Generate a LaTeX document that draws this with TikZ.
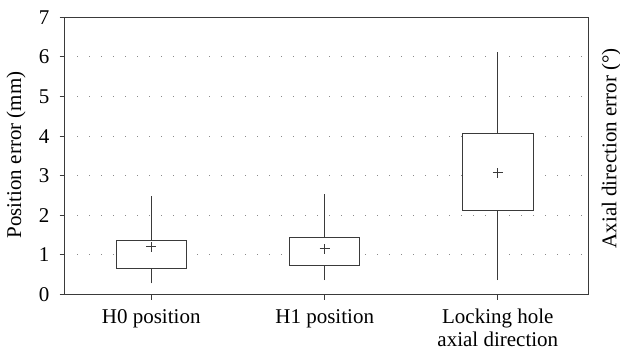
\documentclass[tikz,border=0pt]{standalone}
\usepackage{fontspec}
\setmainfont{Liberation Serif}
\definecolor{axisgray}{HTML}{3A3A3A}
\definecolor{dotgray}{HTML}{8A8A8A}

\begin{document}
\begin{tikzpicture}[x=1pt,y=39.6pt,font=\fontsize{21}{22.5}\selectfont,
    gridline/.style={dotgray,line width=1pt,dash pattern=on 1pt off 11pt},
    boxline/.style={axisgray,line width=1pt},
    ticklabel/.style={anchor=east,inner sep=0pt},
    catlabel/.style={anchor=base,align=center,inner sep=0pt}]
      \useasboundingbox (-64.5,-1.553) rectangle (555.5,7.437);

      \draw[gridline] (12.5,1) -- (520,1); % dotted grid
      \draw[gridline] (12.5,2) -- (520,2);
      \draw[gridline] (12.5,3) -- (520,3);
      \draw[gridline] (12.5,4) -- (520,4);
      \draw[gridline] (12.5,5) -- (520,5);
      \draw[gridline] (12.5,6) -- (520,6);

      \draw[axisgray,line width=1.1pt] (0,0) rectangle (523.8,7); % frame

      \draw[boxline] (-5,0) -- (0,0); % y ticks
      \draw[boxline] (-5,1) -- (0,1);
      \draw[boxline] (-5,2) -- (0,2);
      \draw[boxline] (-5,3) -- (0,3);
      \draw[boxline] (-5,4) -- (0,4);
      \draw[boxline] (-5,5) -- (0,5);
      \draw[boxline] (-5,6) -- (0,6);
      \draw[boxline] (-5,7) -- (0,7);
      \node[ticklabel] (y0) at (-15,0) {0};
      \node[ticklabel] (y1) at (-15,1) {1};
      \node[ticklabel] (y2) at (-15,2) {2};
      \node[ticklabel] (y3) at (-15,3) {3};
      \node[ticklabel] (y4) at (-15,4) {4};
      \node[ticklabel] (y5) at (-15,5) {5};
      \node[ticklabel] (y6) at (-15,6) {6};
      \node[ticklabel] (y7) at (-15,7) {7};

      % H0 position
      \draw[boxline] (86.7,0.28) -- (86.7,2.48); % whisker
      \draw[boxline,fill=white] (51.5,0.66) rectangle (121.9,1.37); % box
      \draw[boxline] (86.7,1.2) +(-5pt,0) -- +(5pt,0) +(0,-5pt) -- +(0,5pt); % mean
      \draw[boxline] (86.7,0) -- (86.7,-0.13); % x tick
      \node[catlabel] (h0) at (86.7,-0.732) {H0 position};

      % H1 position
      \draw[boxline] (260.2,0.36) -- (260.2,2.55);
      \draw[boxline,fill=white] (225,0.74) rectangle (295.4,1.45);
      \draw[boxline] (260.2,1.15) +(-5pt,0) -- +(5pt,0) +(0,-5pt) -- +(0,5pt);
      \draw[boxline] (260.2,0) -- (260.2,-0.13);
      \node[catlabel] (h1) at (260.2,-0.732) {H1 position};

      % locking hole (base = last line)
      \draw[boxline] (433.3,0.36) -- (433.3,6.13);
      \draw[boxline,fill=white] (398.1,2.11) rectangle (468.5,4.07);
      \draw[boxline] (433.3,3.07) +(-5pt,0) -- +(5pt,0) +(0,-5pt) -- +(0,5pt);
      \draw[boxline] (433.3,0) -- (433.3,-0.13);
      \node[catlabel] (lh) at (433.3,-1.31) {Locking hole\\axial direction};

      \node[rotate=90,inner sep=0pt] (ylab) at (-48.5,3.523) {Position error (mm)}; % left axis text
      \node[rotate=90,anchor=north,inner sep=0pt] (zlab) at (537,3.69) {Axial direction error (°)}; % right axis text
\end{tikzpicture}
\end{document}
